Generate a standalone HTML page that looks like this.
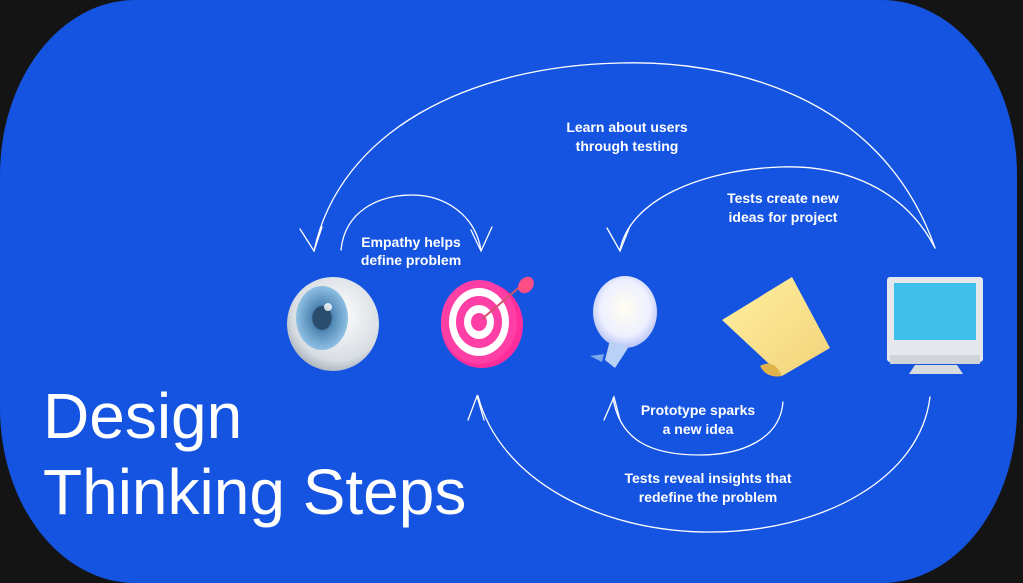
<!DOCTYPE html>
<html><head><meta charset="utf-8"><style>
html,body{margin:0;padding:0;background:#141414;width:1023px;height:583px;overflow:hidden}
.bg{position:absolute;left:0;top:0;width:1017px;height:583px;background:#1554e1;border-radius:135px/175px}
svg{position:absolute;left:0;top:0}
.l{font-family:"Liberation Sans",sans-serif;font-size:14px;fill:#fff;font-weight:bold;text-anchor:middle}
.t{font-family:"Liberation Sans",sans-serif;font-size:64px;fill:#fff;font-weight:300}
</style></head><body>
<div class="bg"></div>
<svg width="1023" height="583" viewBox="0 0 1023 583">
<defs>
<radialGradient id="eye" cx="0.55" cy="0.4" r="0.7"><stop offset="0" stop-color="#fff"/><stop offset="0.7" stop-color="#d8dde2"/><stop offset="1" stop-color="#8e9aa6"/></radialGradient>
<radialGradient id="iris" cx="0.5" cy="0.5" r="0.5"><stop offset="0" stop-color="#2a4d6e"/><stop offset="0.35" stop-color="#2a4d6e"/><stop offset="0.4" stop-color="#4f86b4"/><stop offset="1" stop-color="#8fc0e3"/></radialGradient>
<radialGradient id="bulb" cx="0.5" cy="0.45" r="0.55"><stop offset="0" stop-color="#fffdf2"/><stop offset="0.7" stop-color="#eef0ff"/><stop offset="1" stop-color="#b9c4f5"/></radialGradient>
<linearGradient id="note" x1="0" y1="0" x2="1" y2="1"><stop offset="0" stop-color="#fff0a0"/><stop offset="1" stop-color="#f2d27a"/></linearGradient>
</defs>
<g fill="none" stroke="#fff" stroke-width="1.3" stroke-linecap="round">
<path d="M935 248 C 880 90, 720 60, 620 63 C 470 66, 340 130, 314 251"/>
<path d="M300 229 L314 251 L322 227"/>
<path d="M341 250 C 345 210, 380 195, 412 195 C 445 195, 475 215, 481 250"/>
<path d="M471 230 L481 251 L492 227"/>
<path d="M935 248 C 900 180, 830 165, 780 167 C 700 170, 630 200, 620 250"/>
<path d="M607 228 L620 251 L630 226"/>
<path d="M783 402 C 780 440, 740 455, 700 455 C 650 455, 620 440, 613 398"/>
<path d="M604 420 L614 397 L620 420"/>
<path d="M930 397 C 920 480, 820 532, 710 532 C 600 532, 500 480, 478 396"/>
<path d="M468 420 L477 396 L484 420"/>
</g>
<text class="l" x="627" y="132">Learn about users</text>
<text class="l" x="627" y="151">through testing</text>
<text class="l" x="411" y="247">Empathy helps</text>
<text class="l" x="411" y="265">define problem</text>
<text class="l" x="783" y="203">Tests create new</text>
<text class="l" x="783" y="222">ideas for project</text>
<text class="l" x="698" y="415">Prototype sparks</text>
<text class="l" x="698" y="434">a new idea</text>
<text class="l" x="708" y="483">Tests reveal insights that</text>
<text class="l" x="708" y="502">redefine the problem</text>
<text class="t" x="43" y="438">Design</text>
<text class="t" x="43" y="514">Thinking Steps</text>
<!-- eye -->
<ellipse cx="333" cy="324" rx="46" ry="47" fill="url(#eye)"/>
<ellipse cx="322" cy="318" rx="26" ry="32" fill="url(#iris)"/>
<circle cx="328" cy="307" r="4" fill="#fff" opacity="0.8"/>
<!-- target -->
<g>
<ellipse cx="482" cy="325" rx="41" ry="43" fill="#ff2d9c"/>
<ellipse cx="479" cy="322" rx="38" ry="42" fill="#ff3fa6"/>
<ellipse cx="479" cy="322" rx="30" ry="34" fill="#fff"/>
<ellipse cx="479" cy="322" rx="23" ry="26" fill="#ff3fa6"/>
<ellipse cx="479" cy="322" rx="15" ry="17" fill="#fff"/>
<ellipse cx="479" cy="322" rx="8" ry="9" fill="#ff3fa6"/>
<line x1="482" y1="319" x2="522" y2="285" stroke="#d2546e" stroke-width="2"/>
<ellipse cx="526" cy="285" rx="7" ry="9" fill="#ff4e86" transform="rotate(40 526 285)"/>
</g>
<!-- bulb -->
<ellipse cx="625" cy="312" rx="32" ry="36" fill="url(#bulb)"/>
<path d="M610 340 L605 360 L615 368 L628 348 Z" fill="#b9d0f7"/>
<path d="M590 356 L604 354 L602 362 Z" fill="#7aa9e8"/>
<!-- note -->
<path d="M722 320 L792 277 L830 348 L782 376 Z" fill="url(#note)"/>
<path d="M760 366 C 770 360, 778 366, 782 376 C 772 378, 764 374, 760 366 Z" fill="#e1b14a"/>
<!-- monitor -->
<rect x="887" y="277" width="96" height="85" rx="3" fill="#e4e8ec"/>
<rect x="894" y="283" width="82" height="57" fill="#3fbfec"/>
<rect x="890" y="355" width="90" height="9" fill="#cfd4d8"/>
<path d="M915 365 L957 365 L963 374 L909 374 Z" fill="#d8dcdf"/>
</svg>
</body></html>
